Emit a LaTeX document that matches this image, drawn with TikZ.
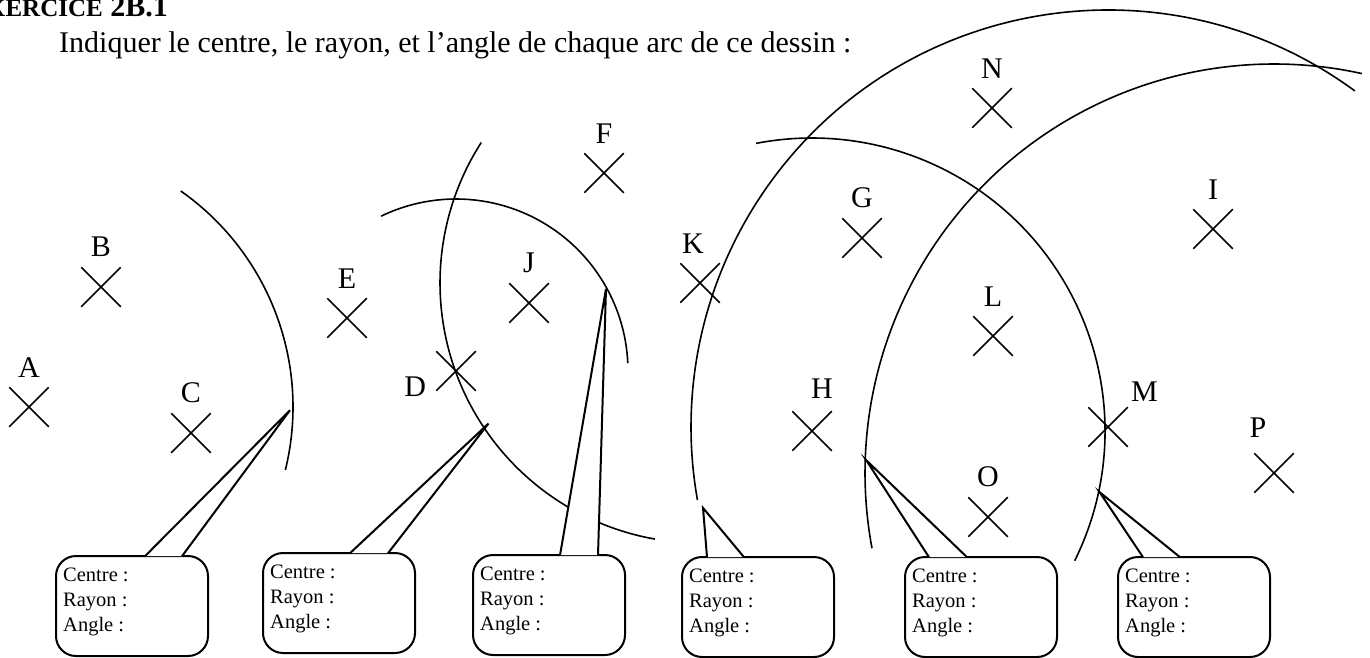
\documentclass[tikz,border=0pt]{standalone}
\usepackage{fontspec}
\setmainfont{Liberation Serif}
\usetikzlibrary{shapes.misc}

\begin{document}
\begin{tikzpicture}[
  x=1pt, y=-1pt,
  label distance=10pt,
  pnt/.style={draw, cross out, minimum size=38pt, inner sep=0pt, line width=1.5pt},
  lab/.style={inner sep=0pt, font=\fontsize{30}{36}\selectfont},
  arcline/.style={draw, line width=1.6pt},
  callbox/.style={
    draw, line width=2pt, rounded corners=20pt, fill=white,
    anchor=north west, minimum width=152pt, minimum height=100pt
  },
  boxtext/.style={
    anchor=north west, align=left, inner xsep=8pt, inner ysep=13pt,
    font=\fontsize{20.5}{25}\selectfont
  },
  wedge/.style={line width=2pt},
]
\useasboundingbox (0,0) rectangle (1370,658);

% ---- Title and instruction ----
\node[anchor=base east, inner sep=0pt, font=\bfseries\fontsize{30}{36}\selectfont] (titre)
  at (168,17) {E{\fontsize{25}{30}\selectfont XERCICE} 2B.1};
\node[lab, anchor=base west] (consigne) at (59,53)
  {Indiquer le centre, le rayon, et l’angle de chaque arc de ce dessin :};

% ---- Points ----
\node[pnt, label={[lab]above:A}] (A) at (29,407) {};
\node[pnt, label={[lab]above:B}] (B) at (101,287) {};
\node[pnt, label={[lab]above:C}] (C) at (191,433) {};
\node[pnt, label={[lab, yshift=-16pt]left:D}] (D) at (456,371) {};
\node[pnt, label={[lab]above:E}] (E) at (347,318) {};
\node[pnt, label={[lab]above:F}] (F) at (604,173) {};
\node[pnt, label={[lab]above:G}] (G) at (862,238) {};
\node[pnt, label={[lab, xshift=10pt, yshift=3pt]above:H}] (H) at (812,431) {};
\node[pnt, label={[lab]above:I}] (I) at (1213,229) {};
\node[pnt, label={[lab]above:J}] (J) at (529,303) {};
\node[pnt, label={[lab, xshift=-7pt]above:K}] (K) at (700,283) {};
\node[pnt, label={[lab]above:L}] (L) at (993,336) {};
\node[pnt, label={[lab, xshift=-4pt, yshift=-2pt]above right:M}] (M) at (1108,427) {};
\node[pnt, label={[lab]above:N}] (N) at (992,108) {};
\node[pnt, label={[lab]above:O}] (O) at (988,517) {};
\node[pnt, label={[lab, xshift=-16pt, yshift=6pt]above:P}] (P) at (1274,473) {};

% ---- Arcs ----
\draw[arcline] ([shift={(-13.8:264pt)}]A.center) arc[start angle=-13.8, end angle=54.9, radius=264pt];
\draw[arcline] ([shift={(147.3:260pt)}]K.center) arc[start angle=147.3, end angle=260, radius=260pt];
\draw[arcline] ([shift={(2.6:172pt)}]D.center) arc[start angle=2.6, end angle=115.8, radius=172pt];
\draw[arcline] ([shift={(53.7:417pt)}]M.center) arc[start angle=53.7, end angle=190.1, radius=417pt];
\draw[arcline] ([shift={(-26.3:293pt)}]H.center) arc[start angle=-26.3, end angle=101, radius=293pt];
\draw[arcline] ([shift={(77.6:409pt)}]P.center) arc[start angle=77.6, end angle=190.6, radius=409pt];

% ---- Callout tips ----
\coordinate (t1) at ([shift={(-0.7:261pt)}]A.center);
\coordinate (t2) at ([shift={(213.6:254pt)}]K.center);
\coordinate (t3) at ([shift={(28.7:171pt)}]D.center);
\coordinate (t4) at ([shift={(191.3:413pt)}]M.center);
\coordinate (t5) at ([shift={(178.2:408pt)}]P.center);
\coordinate (t6) at ([shift={(-12:294pt)}]H.center);

% ---- Callout boxes ----
\foreach \i/\x/\y/\l/\r in {1/55/555/90/127, 2/262/552/88/126, 3/472/554/88/126,
                            4/681/556/26/63, 5/904/556/25/63, 6/1117/556/26/63} {
  \node[callbox] (cb\i) at (\x,\y) {};
  \fill[white] ([shift={(\l pt,-1.2pt)}]cb\i.north west) -- (t\i)
    -- ([shift={(\r pt,-1.2pt)}]cb\i.north west) -- cycle;
  \draw[wedge] ([shift={(\l pt,-1.2pt)}]cb\i.north west) -- (t\i)
    -- ([shift={(\r pt,-1.2pt)}]cb\i.north west);
  \node[boxtext] (ct\i) at (cb\i.north west) {Centre :\\Rayon :\\Angle :};
}

\end{tikzpicture}
\end{document}
